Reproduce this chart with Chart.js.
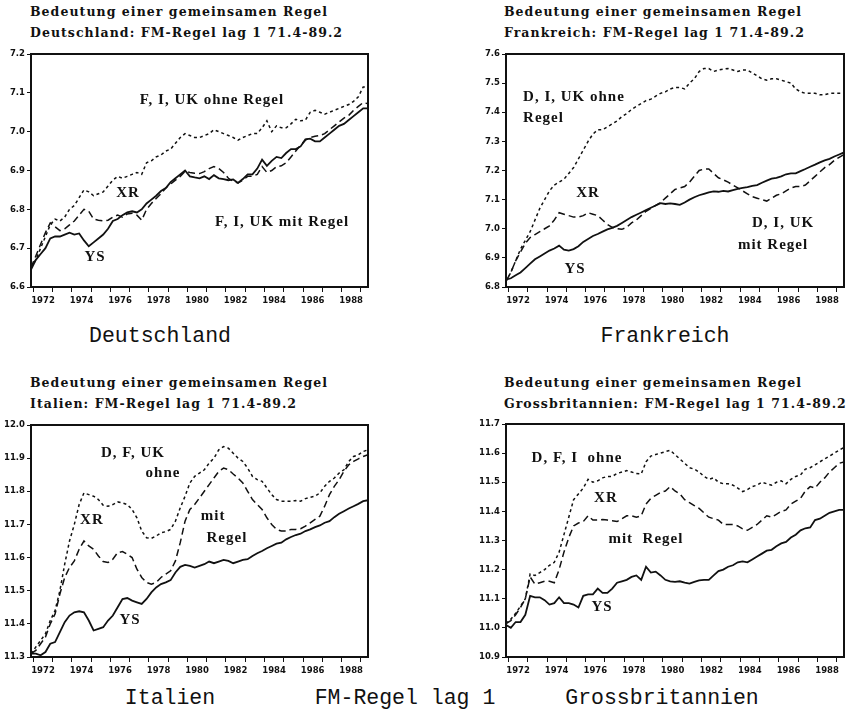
<!DOCTYPE html>
<html><head><meta charset="utf-8">
<script src="https://cdn.jsdelivr.net/npm/chart.js@4"></script>
<style>
html,body{margin:0;padding:0;background:#fff;}
#wrap{position:relative;width:853px;height:711px;overflow:hidden;background:#fff;}
canvas{position:absolute;}
.hdr{position:absolute;font-family:"DejaVu Serif";font-weight:bold;font-size:12.5px;line-height:1;white-space:pre;color:#111;}
.cty{position:absolute;font-family:"Liberation Mono";font-size:21.5px;line-height:1;white-space:pre;color:#111;transform:translateX(-50%);}
</style></head>
<body><div id="wrap">
<div class="hdr" style="left:30px;top:6.4px">Bedeutung einer gemeinsamen Regel</div>
<div class="hdr" style="left:30px;top:27.4px">Deutschland: FM-Regel lag 1 71.4-89.2</div>
<div class="hdr" style="left:504px;top:6.4px">Bedeutung einer gemeinsamen Regel</div>
<div class="hdr" style="left:504px;top:27.4px">Frankreich: FM-Regel lag 1 71.4-89.2</div>
<div class="hdr" style="left:30px;top:377.4px">Bedeutung einer gemeinsamen Regel</div>
<div class="hdr" style="left:30px;top:398.4px">Italien: FM-Regel lag 1 71.4-89.2</div>
<div class="hdr" style="left:504px;top:377.4px">Bedeutung einer gemeinsamen Regel</div>
<div class="hdr" style="left:504px;top:398.4px">Grossbritannien: FM-Regel lag 1 71.4-89.2</div>
<div class="cty" style="left:160px;top:325.5px">Deutschland</div>
<div class="cty" style="left:665px;top:325.5px">Frankreich</div>
<div class="cty" style="left:170px;top:687.5px">Italien</div>
<div class="cty" style="left:405px;top:687.5px">FM-Regel lag 1</div>
<div class="cty" style="left:662px;top:687.5px">Grossbritannien</div>
</div>
<script>
// ---------- categories: quarters 1971.4 .. 1989.2 ----------
const startYear = 1971, startQuarter = 4, endYear = 1989, endQuarter = 2;
const periods = [];
for (let y = startYear, q = startQuarter; y < endYear || (y === endYear && q <= endQuarter); ) {
  periods.push(y + (q - 0.5) / 4);
  q++; if (q > 4) { q = 1; y++; }
}
const tickYears = [1972,1973,1974,1975,1976,1977,1978,1979,1980,1981,1982,1983,1984,1985,1986,1987,1988];
const labelYears = [1972,1974,1976,1978,1980,1982,1984,1986,1988];

// ---------- Deutschland ----------
const de_yTicks = [6.6,6.7,6.8,6.9,7.0,7.1,7.2];
const de_ohneRegel = [6.65,6.67,6.70,6.73,6.76,6.775,6.77,6.78,6.80,6.81,
  6.83,6.85,6.845,6.835,6.84,6.845,6.86,6.875,6.885,6.88,
  6.885,6.89,6.895,6.89,6.92,6.925,6.935,6.94,6.95,6.955,
  6.97,6.985,6.995,6.99,6.985,6.985,6.99,6.995,7.005,7.0,
  6.995,6.99,6.985,6.978,6.985,6.99,6.995,6.995,7.01,7.028,
  7.0,7.015,7.01,7.01,7.02,7.032,7.028,7.03,7.05,7.055,
  7.05,7.045,7.05,7.055,7.06,7.065,7.07,7.078,7.09,7.115,7.115];
const de_mitRegel = [6.65,6.68,6.71,6.74,6.765,6.755,6.745,6.75,6.76,6.77,
  6.785,6.80,6.795,6.775,6.772,6.77,6.772,6.78,6.785,6.78,
  6.788,6.79,6.785,6.772,6.80,6.815,6.828,6.84,6.855,6.865,
  6.875,6.885,6.898,6.895,6.893,6.892,6.897,6.905,6.91,6.905,
  6.895,6.88,6.872,6.868,6.875,6.885,6.885,6.89,6.91,6.895,
  6.9,6.91,6.912,6.92,6.935,6.95,6.965,6.978,6.985,6.988,
  6.99,6.995,7.005,7.015,7.025,7.035,7.042,7.055,7.065,7.075,7.072];
const de_YS = [6.645,6.67,6.685,6.70,6.725,6.73,6.73,6.735,6.74,6.735,
  6.738,6.72,6.705,6.715,6.725,6.735,6.75,6.77,6.775,6.785,
  6.792,6.795,6.792,6.80,6.815,6.825,6.835,6.847,6.855,6.87,
  6.88,6.89,6.9,6.885,6.882,6.88,6.885,6.878,6.888,6.88,
  6.878,6.875,6.877,6.868,6.878,6.89,6.89,6.905,6.928,6.912,
  6.925,6.935,6.932,6.945,6.955,6.955,6.962,6.98,6.982,6.975,
  6.975,6.985,6.995,7.005,7.015,7.02,7.03,7.04,7.05,7.06,7.06];

// ---------- Frankreich ----------
const fr_yTicks = [6.8,6.9,7.0,7.1,7.2,7.3,7.4,7.5,7.6];
const fr_ohneRegel = [6.82,6.85,6.89,6.93,6.96,6.99,7.03,7.07,7.10,7.13,
  7.15,7.16,7.17,7.19,7.21,7.24,7.27,7.30,7.325,7.34,
  7.34,7.35,7.36,7.37,7.385,7.395,7.41,7.42,7.43,7.44,
  7.445,7.455,7.465,7.47,7.48,7.485,7.485,7.48,7.50,7.515,
  7.54,7.55,7.55,7.54,7.545,7.548,7.55,7.545,7.54,7.545,
  7.545,7.535,7.525,7.515,7.51,7.515,7.515,7.51,7.505,7.50,
  7.48,7.47,7.465,7.465,7.465,7.46,7.46,7.465,7.465,7.465,7.465];
const fr_mitRegel = [6.82,6.85,6.89,6.92,6.95,6.97,6.98,6.99,7.0,7.01,
  7.03,7.055,7.05,7.045,7.04,7.04,7.045,7.055,7.05,7.045,
  7.03,7.015,7.005,7.0,6.998,7.005,7.02,7.03,7.045,7.06,
  7.07,7.08,7.09,7.105,7.12,7.135,7.14,7.145,7.16,7.18,
  7.2,7.205,7.205,7.19,7.175,7.168,7.16,7.15,7.14,7.13,
  7.12,7.11,7.105,7.1,7.095,7.105,7.115,7.12,7.13,7.14,
  7.145,7.145,7.15,7.165,7.18,7.195,7.21,7.22,7.235,7.245,7.255];
const fr_YS = [6.825,6.83,6.84,6.85,6.865,6.88,6.895,6.905,6.915,6.925,
  6.932,6.942,6.928,6.925,6.93,6.94,6.955,6.965,6.975,6.982,
  6.99,6.998,7.003,7.01,7.02,7.03,7.04,7.048,7.056,7.064,
  7.072,7.08,7.088,7.085,7.087,7.085,7.082,7.09,7.1,7.108,
  7.115,7.12,7.125,7.128,7.127,7.13,7.128,7.133,7.137,7.14,
  7.143,7.147,7.15,7.158,7.165,7.172,7.175,7.18,7.187,7.19,
  7.19,7.198,7.205,7.213,7.22,7.228,7.235,7.24,7.248,7.255,7.262];

// ---------- Italien ----------
const it_yTicks = [11.3,11.4,11.5,11.6,11.7,11.8,11.9,12.0];
const it_ohneRegel = [11.31,11.33,11.35,11.37,11.41,11.44,11.50,11.58,11.65,11.70,
  11.76,11.795,11.79,11.785,11.775,11.758,11.755,11.76,11.768,11.765,
  11.76,11.745,11.72,11.68,11.66,11.658,11.665,11.675,11.678,11.685,
  11.71,11.75,11.785,11.825,11.845,11.855,11.865,11.885,11.90,11.925,
  11.935,11.93,11.915,11.90,11.89,11.87,11.845,11.835,11.83,11.81,
  11.79,11.775,11.77,11.77,11.77,11.772,11.77,11.778,11.782,11.785,
  11.795,11.815,11.83,11.84,11.855,11.865,11.89,11.905,11.91,11.92,11.925];
const it_mitRegel = [11.31,11.32,11.34,11.36,11.40,11.43,11.49,11.54,11.57,11.59,
  11.625,11.65,11.635,11.625,11.605,11.588,11.585,11.595,11.615,11.618,
  11.61,11.6,11.565,11.54,11.525,11.52,11.525,11.54,11.55,11.56,
  11.59,11.645,11.71,11.745,11.76,11.78,11.8,11.82,11.84,11.86,
  11.87,11.865,11.852,11.84,11.825,11.8,11.775,11.76,11.745,11.72,
  11.7,11.685,11.68,11.68,11.685,11.685,11.687,11.695,11.705,11.715,
  11.725,11.755,11.79,11.815,11.835,11.86,11.88,11.89,11.898,11.905,11.91];
const it_YS = [11.31,11.31,11.305,11.315,11.34,11.345,11.375,11.405,11.425,11.435,
  11.438,11.435,11.41,11.38,11.385,11.39,11.41,11.425,11.45,11.475,
  11.478,11.47,11.465,11.46,11.475,11.495,11.51,11.52,11.525,11.532,
  11.555,11.572,11.578,11.575,11.57,11.575,11.58,11.588,11.583,11.588,
  11.593,11.59,11.583,11.588,11.593,11.595,11.605,11.613,11.62,11.628,
  11.635,11.642,11.645,11.655,11.662,11.668,11.672,11.68,11.685,11.692,
  11.697,11.705,11.71,11.722,11.732,11.74,11.748,11.755,11.762,11.77,11.773];

// ---------- Grossbritannien ----------
const uk_yTicks = [10.9,11.0,11.1,11.2,11.3,11.4,11.5,11.6,11.7];
const uk_ohneRegel = [11.015,11.03,11.05,11.075,11.10,11.185,11.18,11.19,11.20,11.215,
  11.225,11.26,11.32,11.38,11.44,11.46,11.48,11.51,11.50,11.505,
  11.515,11.52,11.52,11.53,11.535,11.54,11.535,11.53,11.528,11.57,
  11.59,11.595,11.60,11.605,11.61,11.595,11.58,11.565,11.55,11.545,
  11.535,11.52,11.51,11.515,11.50,11.495,11.495,11.49,11.48,11.468,
  11.475,11.485,11.49,11.50,11.495,11.49,11.50,11.505,11.495,11.51,
  11.52,11.525,11.545,11.55,11.56,11.57,11.58,11.59,11.60,11.61,11.62];
const uk_mitRegel = [11.015,11.025,11.045,11.07,11.10,11.175,11.15,11.155,11.16,11.16,
  11.155,11.2,11.26,11.31,11.35,11.36,11.365,11.385,11.37,11.37,
  11.372,11.37,11.368,11.365,11.375,11.385,11.385,11.38,11.385,11.425,
  11.445,11.455,11.465,11.47,11.485,11.47,11.46,11.44,11.43,11.42,
  11.41,11.395,11.38,11.375,11.37,11.355,11.355,11.355,11.35,11.34,
  11.335,11.345,11.355,11.37,11.385,11.38,11.39,11.4,11.405,11.425,
  11.435,11.445,11.47,11.485,11.48,11.50,11.515,11.535,11.55,11.565,11.57];
const uk_YS = [11.01,11.0,11.02,11.02,11.045,11.11,11.105,11.105,11.095,11.08,
  11.085,11.105,11.085,11.085,11.08,11.07,11.11,11.115,11.115,11.135,
  11.12,11.12,11.135,11.155,11.16,11.165,11.175,11.18,11.165,11.21,
  11.19,11.193,11.18,11.165,11.16,11.158,11.16,11.155,11.152,11.158,
  11.163,11.165,11.165,11.18,11.195,11.2,11.21,11.215,11.225,11.228,
  11.225,11.235,11.245,11.255,11.265,11.268,11.28,11.29,11.295,11.31,
  11.32,11.335,11.342,11.345,11.37,11.375,11.385,11.395,11.4,11.405,11.405];

// ---------- inline labels (placement) ----------
const de_labels = [
  {text:'F, I, UK ohne Regel', x:1981.27, y:7.082},
  {text:'XR', x:1976.91, y:6.842},
  {text:'F, I, UK mit Regel', x:1984.91, y:6.767},
  {text:'YS', x:1975.2, y:6.677}];
const fr_labels = [
  {text:'D, I, UK ohne', x:1972.76, y:7.452, align:'left'},
  {text:'Regel', x:1972.76, y:7.380, align:'left'},
  {text:'XR', x:1976.12, y:7.123},
  {text:'D, I, UK', x:1986.22, y:7.020},
  {text:'mit Regel', x:1985.70, y:6.944},
  {text:'YS', x:1975.45, y:6.862}];
const it_labels = [
  {text:'D, F, UK', x:1977.17, y:11.916},
  {text:'ohne', x:1978.73, y:11.855},
  {text:'XR', x:1975.04, y:11.713},
  {text:'mit', x:1981.33, y:11.725},
  {text:'Regel', x:1982.05, y:11.659},
  {text:'YS', x:1977.02, y:11.412}];
const uk_labels = [
  {text:'D, F, I  ohne', x:1975.55, y:11.583},
  {text:'XR', x:1977.05, y:11.446},
  {text:'mit  Regel', x:1979.12, y:11.305},
  {text:'YS', x:1976.85, y:11.072}];

// ---------- header letter-spacing fit ----------
(function fitHeaders(){
  const hs = document.querySelectorAll('.hdr');
  const w = hs[0].getBoundingClientRect().width;
  const n = hs[0].textContent.length;
  const ls = (298 - w) / n;
  hs.forEach(h => h.style.letterSpacing = ls + 'px');
})();

const framePlugin = {
  id: 'frame',
  afterDraw(chart) {
    const a = chart.chartArea, ctx = chart.ctx;
    ctx.save(); ctx.strokeStyle = '#111'; ctx.lineWidth = 2;
    ctx.strokeRect(a.left, a.top, a.right - a.left, a.bottom - a.top);
    ctx.restore();
  }
};
const labelPlugin = {
  id: 'inlineLabels',
  afterDatasetsDraw(chart, args, opts) {
    const ctx = chart.ctx, xs = chart.scales.x, ys = chart.scales.y;
    ctx.save(); ctx.fillStyle = '#111';
    ctx.font = 'bold 15px "Liberation Serif"';
    try { ctx.letterSpacing = '1px'; } catch(e) {}
    ctx.textBaseline = 'middle';
    (opts.items || []).forEach(it => {
      ctx.textAlign = it.align || 'center';
      ctx.fillText(it.text, xs.getPixelForValue(it.x), ys.getPixelForValue(it.y));
    });
    ctx.restore();
  }
};

const tickFont = {family: 'DejaVu Sans', weight: 'bold', size: 8.5};
function toPts(vals) { return vals.map((v, i) => ({x: periods[i], y: v})); }

function makePanel(cfg) {
  const cv = document.createElement('canvas');
  cv.width = cfg.cw; cv.height = cfg.ch;
  cv.style.left = cfg.cx + 'px'; cv.style.top = cfg.cy + 'px';
  document.getElementById('wrap').appendChild(cv);
  const base = {borderColor: '#111', pointRadius: 0, fill: false, tension: 0};
  new Chart(cv, {
    type: 'line',
    data: {datasets: [
      Object.assign({label: 'ohne Regel', data: toPts(cfg.ohne), borderDash: [3, 3], borderWidth: 1.5}, base),
      Object.assign({label: 'mit Regel', data: toPts(cfg.mit), borderDash: [7, 4], borderWidth: 1.5}, base),
      Object.assign({label: 'YS', data: toPts(cfg.ys), borderWidth: 1.8}, base)
    ]},
    options: {
      responsive: false, animation: false, devicePixelRatio: 1,
      layout: {padding: {top: cfg.padTop, right: cfg.padRight, left: 0, bottom: 0}},
      plugins: {legend: {display: false}, tooltip: {enabled: false}, inlineLabels: {items: cfg.labels}},
      scales: {
        x: {
          type: 'linear', min: periods[0], max: periods[periods.length - 1],
          afterBuildTicks: s => { s.ticks = tickYears.map(y => ({value: y + 0.5})); },
          afterFit: s => { s.height = 28; },
          ticks: {autoSkip: false, maxRotation: 0, minRotation: 0, padding: 4, color: '#111', font: tickFont,
            callback: v => labelYears.includes(Math.floor(v)) ? String(Math.floor(v)) : ''},
          grid: {offset: true, drawOnChartArea: false, drawTicks: true, tickLength: 5, color: '#111', lineWidth: 1},
          border: {display: false}
        },
        y: {
          type: 'linear', min: cfg.yTicks[0], max: cfg.yTicks[cfg.yTicks.length - 1],
          afterBuildTicks: s => { s.ticks = cfg.yTicks.map(v => ({value: v})); },
          afterFit: s => { s.width = 31; },
          ticks: {padding: 2, color: '#111', font: tickFont, callback: v => Number(v).toFixed(1)},
          grid: {drawOnChartArea: false, drawTicks: true, tickLength: 4, color: '#111', lineWidth: 1},
          border: {display: false}
        }
      }
    },
    plugins: [framePlugin, labelPlugin]
  });
}

makePanel({cx: 0,   cy: 42,  cw: 378, ch: 273, padTop: 12, padRight: 10, yTicks: de_yTicks, ohne: de_ohneRegel, mit: de_mitRegel, ys: de_YS, labels: de_labels});
makePanel({cx: 475, cy: 42,  cw: 378, ch: 273, padTop: 12, padRight: 9,  yTicks: fr_yTicks, ohne: fr_ohneRegel, mit: fr_mitRegel, ys: fr_YS, labels: fr_labels});
makePanel({cx: 0,   cy: 413, cw: 378, ch: 272, padTop: 12, padRight: 10, yTicks: it_yTicks, ohne: it_ohneRegel, mit: it_mitRegel, ys: it_YS, labels: it_labels});
makePanel({cx: 475, cy: 412, cw: 378, ch: 273, padTop: 12, padRight: 9,  yTicks: uk_yTicks, ohne: uk_ohneRegel, mit: uk_mitRegel, ys: uk_YS, labels: uk_labels});
</script>
</body></html>
